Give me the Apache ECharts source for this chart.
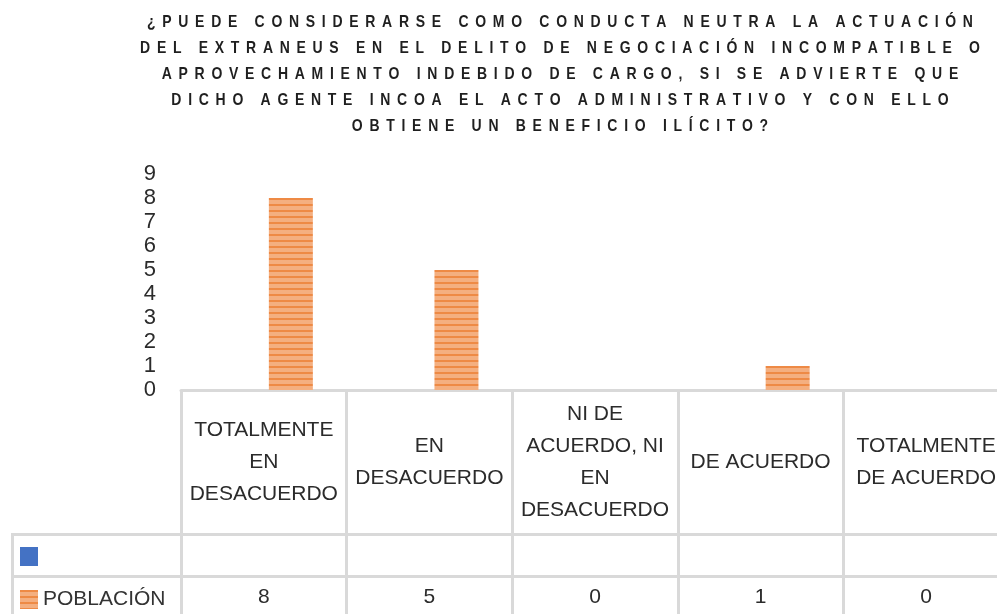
<!DOCTYPE html>
<html>
<head>
<meta charset="utf-8">
<script src="https://cdn.jsdelivr.net/npm/echarts@6/dist/echarts.min.js"></script>
<style>
    html, body {margin:0;padding:0;background:#ffffff;}
    #chart {width:997px;height:614px;}
</style>
</head>
<body>
<div id="chart"></div>
<script>
    // titulo (5 lineas, como en el original)
    var titleLines = [
        '¿PUEDE CONSIDERARSE COMO CONDUCTA NEUTRA LA ACTUACIÓN',
        'DEL EXTRANEUS EN EL DELITO DE NEGOCIACIÓN INCOMPATIBLE O',
        'APROVECHAMIENTO INDEBIDO DE CARGO, SI SE ADVIERTE QUE',
        'DICHO AGENTE INCOA EL ACTO ADMINISTRATIVO Y CON ELLO',
        'OBTIENE UN BENEFICIO ILÍCITO?'
    ];
    var categories = [
        'TOTALMENTE\nEN\nDESACUERDO',
        'EN\nDESACUERDO',
        'NI DE\nACUERDO, NI\nEN\nDESACUERDO',
        'DE ACUERDO',
        'TOTALMENTE\nDE ACUERDO'
    ];
    var blankSeries = [null, null, null, null, null];
    var poblacion = [8, 5, 0, 1, 0];
    var yMax = 9;
    var yStep = 1;

    var tableFont = "'Liberation Sans', sans-serif";
    var lineGray = '#d9d9d9';

    // rayas del relleno naranja
    var stripe = document.createElement('canvas');
    stripe.width = 8;
    stripe.height = 6;
    var sctx = stripe.getContext('2d');
    sctx.fillStyle = '#f4af80';
    sctx.fillRect(0, 0, 8, 6);
    sctx.fillStyle = '#ee8a45';
    sctx.fillRect(0, 0, 8, 2);

    // letras separadas en el titulo
    function spaced(line) {
        return line.split('').map(function (ch) { return '{t|' + ch + '}'; }).join('');
    }

    var chart = echarts.init(document.getElementById('chart'));
    var option = {
        animation: false,
        grid: {left: 181, top: 174, width: 828, height: 216, outerBoundsMode: 'none', containLabel: false},
        legend: {
            orient: 'vertical',
            left: 20,
            top: 546,
            padding: 0,
            itemWidth: 18,
            itemHeight: 19,
            itemGap: 22,
            icon: 'rect',
            selectedMode: false,
            data: [' ', 'POBLACIÓN'],
            textStyle: {fontFamily: tableFont, fontSize: 21, color: '#333333', lineHeight: 19}
        },
        xAxis: [{
            type: 'category',
            data: categories,
            axisLine: {lineStyle: {color: lineGray, width: 3}},
            axisTick: {show: true, interval: 0, length: 226, lineStyle: {color: lineGray, width: 3}},
            axisLabel: {
                interval: 0, margin: 72, verticalAlign: 'middle', lineHeight: 32,
                fontFamily: tableFont, fontSize: 21, color: '#2b2b2b'
            }
        }, {
            type: 'category',
            data: categories,
            position: 'bottom',
            axisLine: {show: false},
            axisTick: {show: false},
            axisLabel: {
                interval: 0, margin: 207, verticalAlign: 'middle',
                fontFamily: tableFont, fontSize: 21, color: '#2b2b2b',
                formatter: function (v, i) { return String(poblacion[i]); }
            }
        }],
        yAxis: {
            type: 'value',
            min: 0,
            max: yMax,
            interval: yStep,
            axisLine: {show: false},
            axisTick: {show: false},
            splitLine: {show: false},
            axisLabel: {margin: 25, fontFamily: tableFont, fontSize: 22, color: '#2b2b2b'}
        },
        series: [{
            name: ' ',
            type: 'bar',
            barWidth: 44,
            barGap: '23%',
            itemStyle: {color: '#4472c4'},
            data: blankSeries
        }, {
            name: 'POBLACIÓN',
            type: 'bar',
            barWidth: 44,
            barGap: '23%',
            itemStyle: {color: {image: stripe, repeat: 'repeat'}},
            data: poblacion
        }],
        graphic: [{
            type: 'text',
            x: 560,
            y: 9,
            scaleY: 1.15,
            style: {
                text: titleLines.map(spaced).join('\n'),
                align: 'center',
                verticalAlign: 'top',
                rich: {
                    t: {font: "bold 14px 'Liberation Sans', sans-serif", fill: '#1f1f1f', padding: [0, 3.35, 0, 3.35], lineHeight: 22.8}
                }
            }
        }, {
            type: 'line',
            shape: {x1: 12, y1: 534.5, x2: 997, y2: 534.5},
            style: {stroke: lineGray, lineWidth: 3}
        }, {
            type: 'line',
            shape: {x1: 12, y1: 576.5, x2: 997, y2: 576.5},
            style: {stroke: lineGray, lineWidth: 3}
        }, {
            type: 'line',
            shape: {x1: 12.5, y1: 533, x2: 12.5, y2: 614},
            style: {stroke: lineGray, lineWidth: 3}
        }]
    };
    chart.setOption(option);
</script>
</body>
</html>
